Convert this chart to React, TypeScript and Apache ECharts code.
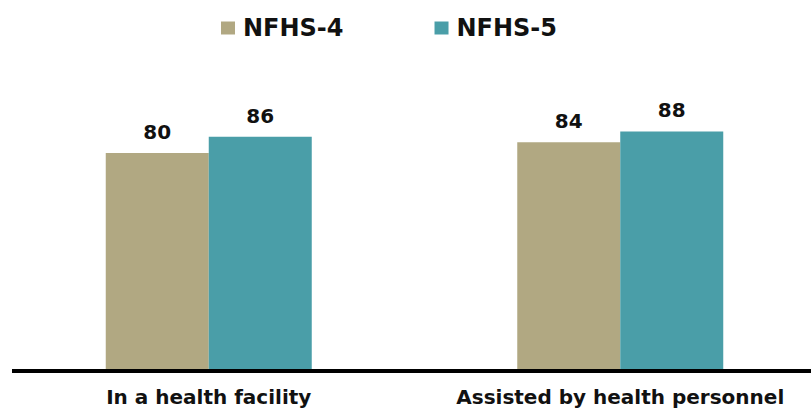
import React, { useEffect, useRef } from "react";
import * as echarts from "echarts";

const categories = ["In a health facility", "Assisted by health personnel"];
const nfhs4 = [80, 84];
const nfhs5 = [86, 88];
const seriesNames = ["NFHS-4", "NFHS-5"];

const FONT = "DejaVu Sans";

export default function App() {
  const ref = useRef<HTMLDivElement>(null);
  useEffect(() => {
    if (!ref.current) return;
    const chart = echarts.init(ref.current, undefined, { renderer: "svg" });
    const label = {
      show: true,
      position: "top",
      distance: 11,
      fontFamily: FONT,
      fontWeight: "bold",
      fontSize: 20,
      color: "#111",
    };
    chart.setOption({
      animation: false,
      backgroundColor: "#ffffff",
      legend: {
        data: seriesNames,
        left: 221,
        top: 16,
        padding: 0,
        itemWidth: 14,
        itemHeight: 13,
        itemGap: 91,
        icon: "rect",
        textStyle: {
          fontFamily: FONT,
          fontWeight: "bold",
          fontSize: 24,
          color: "#111",
          padding: [0, 0, 0, 3],
        },
      },
      grid: {
        left: 3,
        width: 823,
        top: 99,
        bottom: 40,
        containLabel: false,
        outerBoundsMode: "none",
      },
      xAxis: {
        type: "category",
        data: categories,
        axisLine: { show: false },
        axisTick: { show: false },
        axisLabel: {
          interval: 0,
          hideOverlap: false,
          fontFamily: FONT,
          fontWeight: "bold",
          fontSize: 20,
          color: "#111",
          margin: 18,
        },
      },
      yAxis: {
        type: "value",
        min: 0,
        max: 100,
        show: false,
        splitLine: { show: false },
      },
      graphic: [
        {
          type: "line",
          shape: { x1: 12, y1: 371, x2: 811, y2: 371 },
          style: { stroke: "#000", lineWidth: 4 },
          z: 10,
        },
      ],
      series: [
        {
          name: seriesNames[0],
          type: "bar",
          data: nfhs4,
          barWidth: 103,
          barGap: "0%",
          itemStyle: { color: "#B1A882" },
          label,
        },
        {
          name: seriesNames[1],
          type: "bar",
          data: nfhs5,
          barWidth: 103,
          barGap: "0%",
          itemStyle: { color: "#4A9EA8" },
          label,
        },
      ],
    });
    return () => chart.dispose();
  }, []);
  return <div ref={ref} style={{ width: 811, height: 409, position: "absolute", left: 0, top: 0 }} />;
}
